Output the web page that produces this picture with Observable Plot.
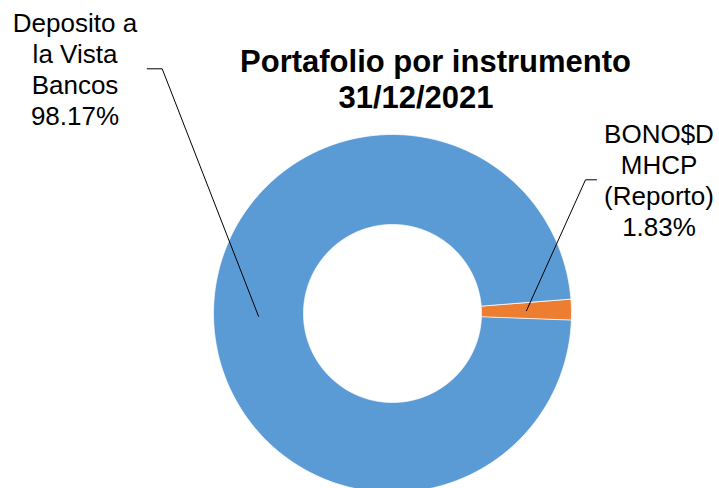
<!DOCTYPE html>
<html>
<head>
<meta charset="utf-8">
<script src="https://cdn.jsdelivr.net/npm/d3@7"></script>
<script src="https://cdn.jsdelivr.net/npm/@observablehq/plot@0.6"></script>
<style>
  html, body { margin: 0; padding: 0; background: #fff; }
  #chart { width: 719px; height: 488px; overflow: hidden; }
</style>
</head>
<body>
<div id="chart"></div>
<script>
// ---- Data ----
const categories = ["Deposito a la Vista Bancos", "BONO$D MHCP (Reporto)"];
const values = [98.17, 1.83];
const labelLines = [["Deposito a", "la Vista", "Bancos"], ["BONO$D", "MHCP", "(Reporto)"]];
const colors = ["#5B9BD5", "#ED7D31"];
const titleLines = ["Portafolio por instrumento", "31/12/2021"];

// ---- Layout ----
const W = 719, H = 488;
const cx = 392, cy = 313, R = 179, r0 = 89;
const startDeg = 92.1; // first slice angle (clockwise from 12 o'clock)
const labelPos = [{x: 74.5, y: 31.7}, {x: 658.5, y: 142.3}];
const lineGap = 31;
const elbow = [{x0: 146.7, x1: 161.7, y: 68.3}, {x0: 596, x1: 585, y: 179.3}];

const pie = d3.pie().sort(null).value(d => d.value)
  .startAngle(startDeg * Math.PI / 180)
  .endAngle(startDeg * Math.PI / 180 + 2 * Math.PI);
const rows = categories.map((c, i) => ({name: c, value: values[i]}));
const arcs = pie(rows);

const pt = (a, rad) => ({x: cx + rad * Math.sin(a), y: cy - rad * Math.cos(a)});

// slice polygons
const poly = [];
arcs.forEach(a => {
  const n = Math.max(4, Math.ceil((a.endAngle - a.startAngle) / (Math.PI / 360)));
  for (let k = 0; k <= n; k++) {
    const t = a.startAngle + (a.endAngle - a.startAngle) * k / n;
    poly.push({name: a.data.name, ...pt(t, R)});
  }
  for (let k = n; k >= 0; k--) {
    const t = a.startAngle + (a.endAngle - a.startAngle) * k / n;
    poly.push({name: a.data.name, ...pt(t, r0)});
  }
});

// leader lines
const leaders = [];
arcs.forEach((a, i) => {
  const mid = (a.startAngle + a.endAngle) / 2;
  const c = pt(mid, (R + r0) / 2);
  leaders.push({name: a.data.name, x: elbow[i].x0, y: elbow[i].y});
  leaders.push({name: a.data.name, x: elbow[i].x1, y: elbow[i].y});
  leaders.push({name: a.data.name, ...c});
});

// labels
const texts = [];
arcs.forEach((a, i) => {
  const lines = [...labelLines[i], d3.format(".2f")(a.data.value) + "%"];
  lines.forEach((t, j) => texts.push({text: t, x: labelPos[i].x, y: labelPos[i].y + j * lineGap}));
});

const titles = [
  {text: titleLines[0], x: 435, y: 71.5},
  {text: titleLines[1], x: 415.5, y: 107}
];

const chart = Plot.plot({
  width: W,
  height: H,
  margin: 0,
  style: {fontFamily: "'Liberation Sans', Arial, sans-serif", background: "#fff"},
  x: {type: "identity", axis: null},
  y: {type: "identity", axis: null},
  color: {domain: categories, range: colors},
  marks: [
    Plot.line(poly, {x: "x", y: "y", z: "name", fill: "name", stroke: "#fff", strokeWidth: 0.75, curve: "linear-closed"}),
    Plot.line(leaders, {x: "x", y: "y", z: "name", stroke: "#000", strokeWidth: 1}),
    Plot.text(texts, {x: "x", y: "y", text: "text", fontSize: 26, lineAnchor: "bottom", textAnchor: "middle", fill: "#000"}),
    Plot.text(titles, {x: "x", y: "y", text: "text", fontSize: 31, fontWeight: "bold", lineAnchor: "bottom", textAnchor: "middle", fill: "#000"})
  ]
});
document.getElementById("chart").appendChild(chart);
</script>
</body>
</html>
